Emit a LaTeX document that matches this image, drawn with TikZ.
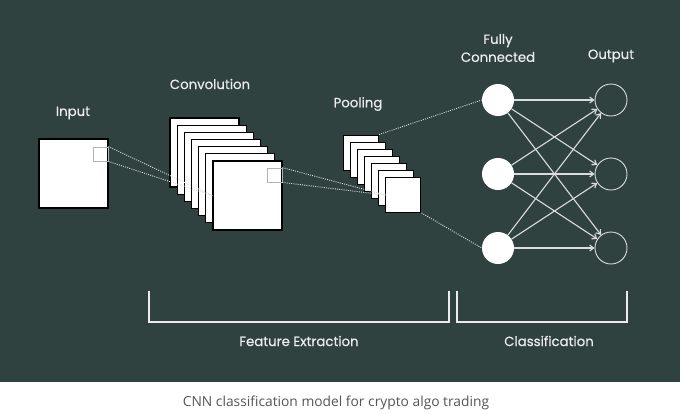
\documentclass[tikz,border=0pt]{standalone}
\usepackage{fontspec}
\setmainfont{Poppins}[FakeBold=0.5]
\newfontfamily\capfont{Open Sans}
\usetikzlibrary{arrows.meta,positioning}
\definecolor{bgdark}{RGB}{47,66,64}
\definecolor{lblwhite}{RGB}{236,236,236}
\definecolor{wire}{RGB}{220,220,220}
\definecolor{capgray}{RGB}{85,85,85}
\tikzset{
  fmap/.style={rectangle,draw=black,fill=white,line width=1.1pt,
               minimum size=#1,inner sep=0pt},
  fmap/.default=69pt,
  patch/.style={rectangle,draw=gray!60,line width=0.8pt,minimum width=15pt,
                minimum height=14pt,inner sep=0pt},
  neuron/.style={circle,fill=white,minimum size=32pt,inner sep=0pt},
  outn/.style={circle,draw=wire,line width=0.9pt,minimum size=32pt,inner sep=0pt},
  lbl/.style={text=lblwhite,align=center,font=\fontsize{13.3}{18}\selectfont},
  dots/.style={draw=wire,line width=0.9pt,dash pattern=on 1pt off 1.2pt},
  arr/.style={-{Straight Barb[length=4pt,width=6pt]},draw=wire,line width=1.1pt},
  brk/.style={draw=lblwhite,line width=1.8pt},
}

\begin{document}
\begin{tikzpicture}[x=1pt,y=-1pt]
    \fill[white] (0,0) rectangle (680,413);
    \fill[bgdark] (0,0) rectangle (680,382);
    \useasboundingbox (0,0) rectangle (680,413);

    \node[fmap] (in) at (73.5,173.5) {};
    \node[patch] (inp) at (100.5,154) {};

    \foreach \i in {0,...,6}
      \node[fmap] (c\i) at ({204.5+7.17*\i},{152.5+7.17*\i}) {};
    \node[patch] (cp) at (274.5,175) {};

    \foreach \i in {0,...,6}
      \node[fmap=35pt,line width=1pt] (p\i) at ({361+7.08*\i},{152.5+7.08*\i}) {};

    \node[neuron] (f1) at (498,100) {};
    \node[neuron] (f2) at (498,174) {};
    \node[neuron] (f3) at (498,248) {};
    \node[outn] (o1) at (611,100) {};
    \node[outn] (o2) at (611,174) {};
    \node[outn] (o3) at (611,248) {};

    \draw[dots] (inp.north east) -- (c6.west);
    \draw[dots] (inp.south east) -- (c6.west);
    \draw[dots] (cp.north east) -- (p6.west);
    \draw[dots] (cp.south east) -- (p6.west);
    \draw[dots] (p0.north east) -- (f1.west);
    \draw[dots] (p6.south east) -- (f3.west);

    \foreach \a in {1,2,3}
      \foreach \b in {1,2,3}
        \draw[arr] (f\a) -- (o\b);

    \node[lbl] at (73,113) {Input};
    \node[lbl] at (210,84) {Convolution};
    \node[lbl] at (358,104) {Pooling};
    \node[lbl] at (498,48) {Fully\\Connected};
    \node[lbl] at (611,56) {Output};

    \draw[brk] (149,291) |- (449,322) -- (449,291);
    \draw[brk] (457,291) |- (627,322) -- (627,291);
    \node[lbl] at (299,341) {Feature Extraction};
    \node[lbl] at (549,341) {Classification};

    \node[text=capgray,font=\capfont\fontsize{13.8}{16}\selectfont] at (336,403)
      {CNN classification model for crypto algo trading};
\end{tikzpicture}
\end{document}
